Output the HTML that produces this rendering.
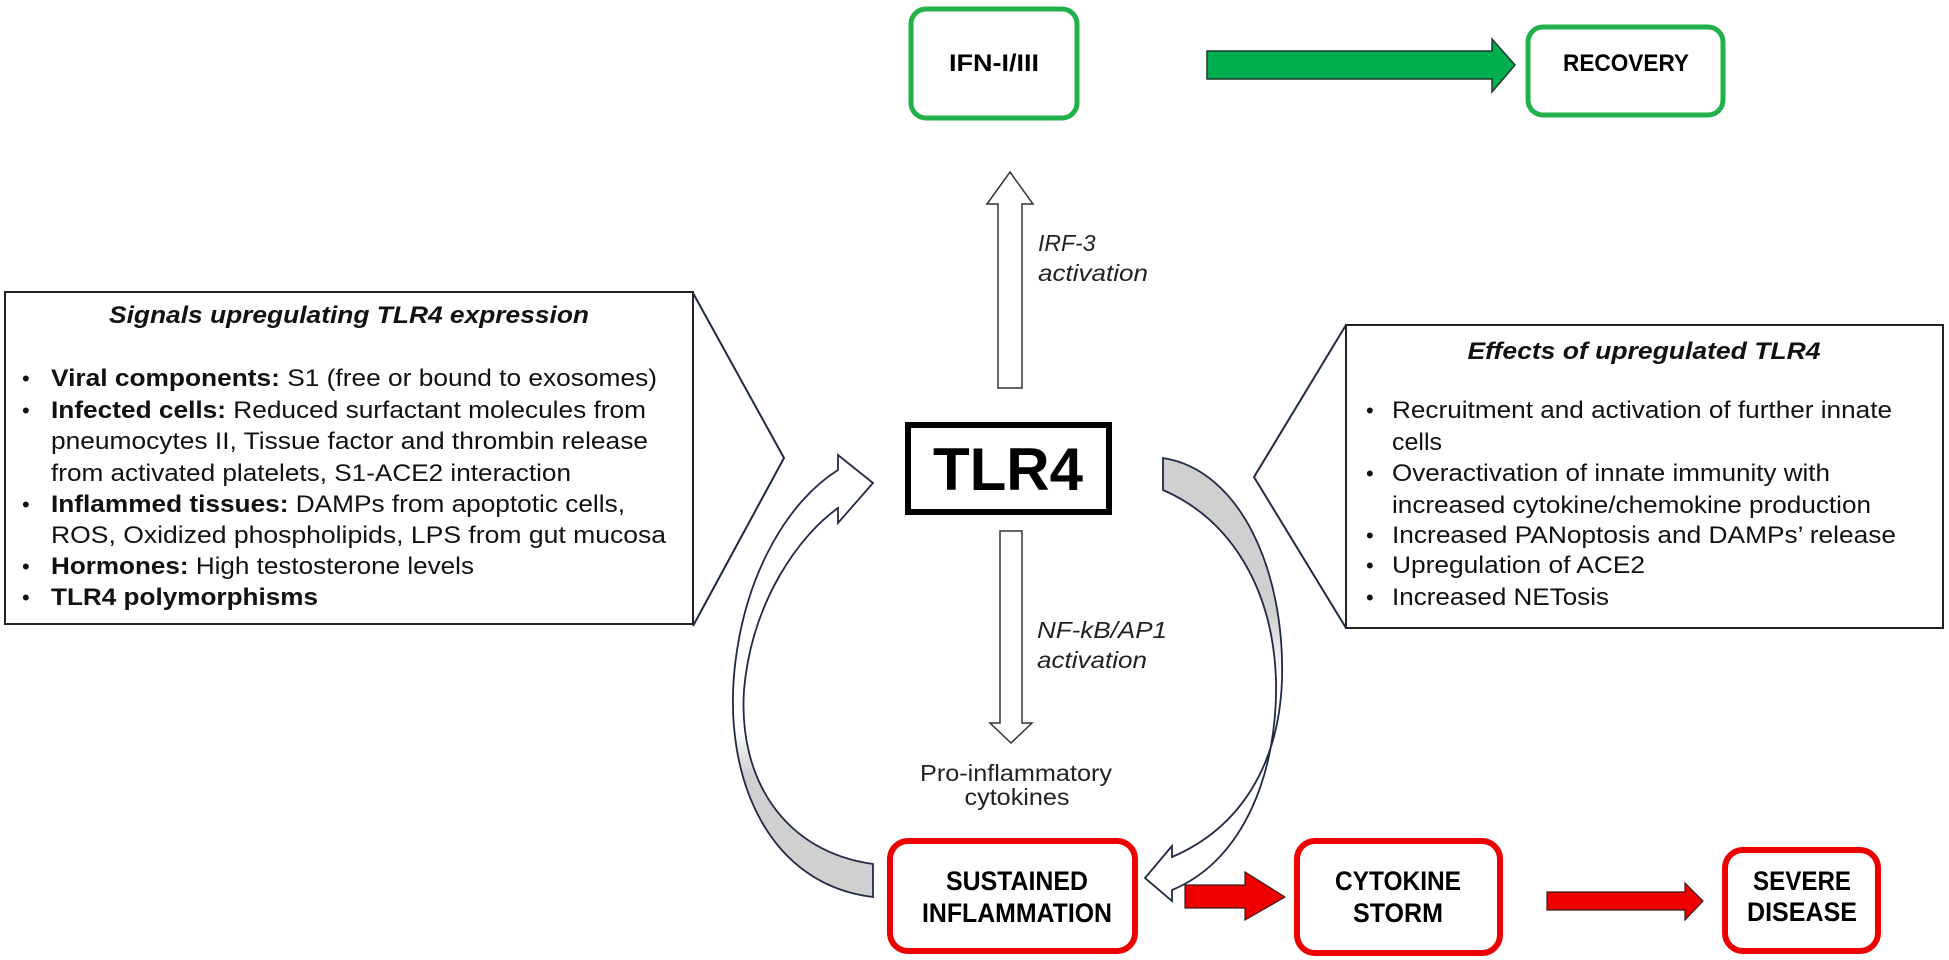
<!DOCTYPE html>
<html><head><meta charset="utf-8"><style>
html,body{margin:0;padding:0;background:#fff;}
svg{display:block;font-family:"Liberation Sans",Arial,sans-serif;}
</style></head><body>
<svg width="1949" height="960" viewBox="0 0 1949 960" xmlns="http://www.w3.org/2000/svg">
<defs>
<linearGradient id="gl" x1="0" y1="0" x2="0" y2="1" gradientUnits="objectBoundingBox">
<stop offset="0" stop-color="#fff"/><stop offset="0.62" stop-color="#fff"/><stop offset="0.72" stop-color="#d0d0d0"/><stop offset="1" stop-color="#d0d0d0"/></linearGradient>
<linearGradient id="gr" x1="0" y1="0" x2="0" y2="1" gradientUnits="objectBoundingBox">
<stop offset="0" stop-color="#d0d0d0"/><stop offset="0.35" stop-color="#d0d0d0"/><stop offset="0.5" stop-color="#fff"/><stop offset="1" stop-color="#fff"/></linearGradient>
</defs>

<!-- Left box with callout -->
<rect x="5" y="292" width="688" height="332" fill="#fff" stroke="#222" stroke-width="2"/>
<polyline points="693,293 784,458 693,626" fill="none" stroke="#1f2a44" stroke-width="2"/>
<g font-size="24" fill="#111">
<text x="349" y="323" text-anchor="middle" font-style="italic" font-weight="bold" textLength="480" lengthAdjust="spacingAndGlyphs">Signals upregulating  TLR4 expression</text>
<g font-size="22"><text x="22" y="386">•</text><text x="22" y="418">•</text><text x="22" y="512">•</text><text x="22" y="574">•</text><text x="22" y="605">•</text></g>
<text x="51" y="386" textLength="606" lengthAdjust="spacingAndGlyphs"><tspan font-weight="bold">Viral components:</tspan> S1 (free or bound to exosomes)</text>
<text x="51" y="418" textLength="595" lengthAdjust="spacingAndGlyphs"><tspan font-weight="bold">Infected cells:</tspan> Reduced surfactant  molecules from</text>
<text x="51" y="449" textLength="597" lengthAdjust="spacingAndGlyphs">pneumocytes II,  Tissue factor and thrombin  release</text>
<text x="51" y="481" textLength="520" lengthAdjust="spacingAndGlyphs">from activated platelets, S1-ACE2 interaction</text>
<text x="51" y="512" textLength="574" lengthAdjust="spacingAndGlyphs"><tspan font-weight="bold">Inflammed tissues:</tspan> DAMPs from apoptotic cells,</text>
<text x="51" y="543" textLength="615" lengthAdjust="spacingAndGlyphs">ROS,  Oxidized phospholipids,  LPS from gut mucosa</text>
<text x="51" y="574" textLength="423" lengthAdjust="spacingAndGlyphs"><tspan font-weight="bold">Hormones:</tspan> High testosterone  levels</text>
<text x="51" y="605" textLength="267" lengthAdjust="spacingAndGlyphs" font-weight="bold">TLR4 polymorphisms</text>
</g>

<!-- Right box with callout -->
<rect x="1346" y="325" width="597" height="303" fill="#fff" stroke="#222" stroke-width="2"/>
<polyline points="1346,325 1254,477 1346,628" fill="none" stroke="#1f2a44" stroke-width="2"/>
<g font-size="24" fill="#111">
<text x="1644" y="359" text-anchor="middle" font-style="italic" font-weight="bold" textLength="353" lengthAdjust="spacingAndGlyphs">Effects of upregulated  TLR4</text>
<g font-size="22"><text x="1366" y="418">•</text><text x="1366" y="481">•</text><text x="1366" y="543">•</text><text x="1366" y="573">•</text><text x="1366" y="605">•</text></g>
<text x="1392" y="418" textLength="500" lengthAdjust="spacingAndGlyphs">Recruitment  and activation  of further  innate</text>
<text x="1392" y="450" textLength="50" lengthAdjust="spacingAndGlyphs">cells</text>
<text x="1392" y="481" textLength="438" lengthAdjust="spacingAndGlyphs">Overactivation  of innate immunity  with</text>
<text x="1392" y="513" textLength="479" lengthAdjust="spacingAndGlyphs">increased cytokine/chemokine  production</text>
<text x="1392" y="543" textLength="504" lengthAdjust="spacingAndGlyphs">Increased PANoptosis and DAMPs’ release</text>
<text x="1392" y="573" textLength="253" lengthAdjust="spacingAndGlyphs">Upregulation  of ACE2</text>
<text x="1392" y="605" textLength="217" lengthAdjust="spacingAndGlyphs">Increased NETosis</text>
</g>

<!-- Green boxes -->
<rect x="911" y="9" width="166" height="109" rx="15" fill="#fff" stroke="#22b04a" stroke-width="5"/>
<text x="994" y="71" text-anchor="middle" font-size="24" font-weight="bold" textLength="90" lengthAdjust="spacingAndGlyphs">IFN-I/III</text>
<rect x="1528" y="27" width="195" height="88" rx="15" fill="#fff" stroke="#22b04a" stroke-width="5"/>
<text x="1626" y="71" text-anchor="middle" font-size="24" font-weight="bold" textLength="126" lengthAdjust="spacingAndGlyphs">RECOVERY</text>
<polygon points="1207,51 1492,51 1492,39 1515,65 1492,92 1492,79 1207,79" fill="#00b050" stroke="#1f3a2a" stroke-width="1.5"/>

<!-- TLR4 -->
<rect x="908" y="425" width="201" height="87" fill="#fff" stroke="#000" stroke-width="6"/>
<text x="1008" y="490" text-anchor="middle" font-size="60" font-weight="bold" textLength="150" lengthAdjust="spacingAndGlyphs">TLR4</text>

<!-- Up arrow -->
<polygon points="998,388 998,204 987,204 1010,172 1033,204 1022,204 1022,388" fill="#fff" stroke="#333" stroke-width="1.5"/>
<text x="1038" y="251" font-size="23" font-style="italic" fill="#222">IRF-3</text>
<text x="1038" y="281" font-size="23" font-style="italic" fill="#222" textLength="110" lengthAdjust="spacingAndGlyphs">activation</text>

<!-- Down arrow -->
<polygon points="1000,531 1022,531 1022,723 1032,723 1011,743 990,723 1000,723" fill="#fff" stroke="#333" stroke-width="1.5"/>
<text x="1037" y="638" font-size="23" font-style="italic" fill="#222" textLength="130" lengthAdjust="spacingAndGlyphs">NF-kB/AP1</text>
<text x="1037" y="668" font-size="23" font-style="italic" fill="#222" textLength="110" lengthAdjust="spacingAndGlyphs">activation</text>
<text x="1016" y="781" text-anchor="middle" font-size="23" fill="#222" textLength="192" lengthAdjust="spacingAndGlyphs">Pro-inflammatory</text>
<text x="1017" y="805" text-anchor="middle" font-size="23" fill="#222" textLength="105" lengthAdjust="spacingAndGlyphs">cytokines</text>

<!-- Left curved arrow -->
<path d="M873,897 C770,885 722,780 735,665 C746,570 790,500 838,470 L838,455 L873,483 L838,523 L838,508 C800,535 752,600 744,690 C738,780 785,852 873,864 Z" fill="url(#gl)" stroke="#1f2a44" stroke-width="1.8"/>

<!-- Right curved arrow -->
<path d="M1163,458 C1240,470 1285,570 1282,680 C1279,765 1240,828 1172,857 L1172,846 L1145,878 L1172,901 L1172,890 C1245,860 1278,770 1276,680 C1273,590 1232,520 1163,490 Z" fill="url(#gr)" stroke="#1f2a44" stroke-width="1.8"/>

<!-- Red boxes -->
<rect x="890" y="841" width="245" height="110" rx="18" fill="#fff" stroke="#ee0000" stroke-width="6"/>
<text x="1017" y="890" text-anchor="middle" font-size="27" font-weight="bold" textLength="142" lengthAdjust="spacingAndGlyphs">SUSTAINED</text>
<text x="1017" y="922" text-anchor="middle" font-size="27" font-weight="bold" textLength="190" lengthAdjust="spacingAndGlyphs">INFLAMMATION</text>
<rect x="1297" y="841" width="203" height="112" rx="18" fill="#fff" stroke="#ee0000" stroke-width="6"/>
<text x="1398" y="890" text-anchor="middle" font-size="27" font-weight="bold" textLength="126" lengthAdjust="spacingAndGlyphs">CYTOKINE</text>
<text x="1398" y="922" text-anchor="middle" font-size="27" font-weight="bold" textLength="90" lengthAdjust="spacingAndGlyphs">STORM</text>
<rect x="1725" y="850" width="153" height="101" rx="18" fill="#fff" stroke="#ee0000" stroke-width="6"/>
<text x="1802" y="890" text-anchor="middle" font-size="27" font-weight="bold" textLength="98" lengthAdjust="spacingAndGlyphs">SEVERE</text>
<text x="1802" y="921" text-anchor="middle" font-size="27" font-weight="bold" textLength="110" lengthAdjust="spacingAndGlyphs">DISEASE</text>

<!-- Red arrows -->
<polygon points="1185,885 1245,885 1245,872 1285,897 1245,920 1245,908 1185,908" fill="#ee0000" stroke="#3a1a1a" stroke-width="1.2"/>
<polygon points="1547,892 1685,892 1685,883 1703,901 1685,920 1685,910 1547,910" fill="#ee0000" stroke="#3a1a1a" stroke-width="1.2"/>
</svg>
</body></html>
